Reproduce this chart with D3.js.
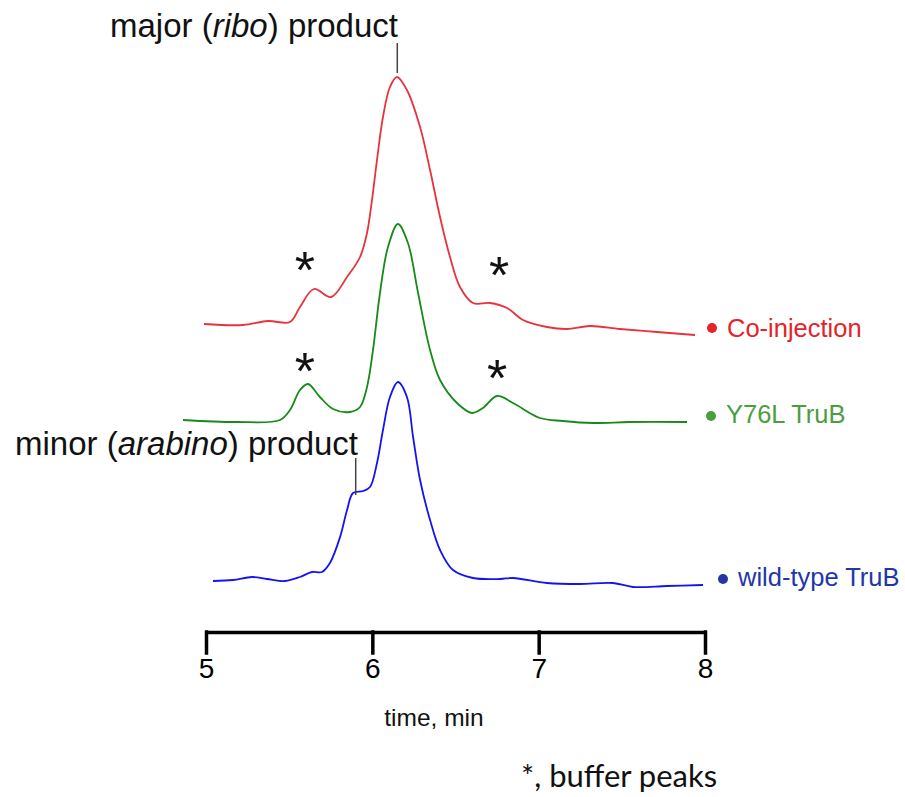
<!DOCTYPE html>
<html>
<head>
<meta charset="utf-8">
<script src="https://cdn.jsdelivr.net/npm/d3@7/dist/d3.min.js"></script>
<style>
  html, body { margin: 0; padding: 0; background: #fff; }
  svg { display: block; font-family: "Liberation Sans", Arial, sans-serif; }
</style>
</head>
<body>
<svg id="chart" width="905" height="797"></svg>
<script>
// ---------- data ----------
const seriesNames = ["Co-injection", "Y76L TruB", "wild-type TruB"];

const coinjTime = [4.988, 5.222, 5.373, 5.505, 5.565, 5.649, 5.752, 5.848, 5.926, 5.968, 5.998, 6.028, 6.064, 6.106, 6.148, 6.208, 6.287, 6.347, 6.407, 6.467, 6.527, 6.605, 6.707, 6.810, 6.906, 7.050, 7.170, 7.309, 7.489, 7.711, 7.940];
const coinjValue = [0.00, -0.02, 0.06, 0.04, 0.34, 0.70, 0.54, 0.94, 1.34, 1.82, 2.48, 3.28, 4.14, 4.74, 4.94, 4.68, 3.94, 3.08, 2.14, 1.34, 0.74, 0.42, 0.42, 0.32, 0.08, -0.06, -0.10, -0.04, -0.10, -0.16, -0.22];

const y76lTime = [4.862, 5.186, 5.445, 5.505, 5.565, 5.613, 5.685, 5.764, 5.866, 5.926, 5.968, 6.004, 6.046, 6.094, 6.154, 6.214, 6.275, 6.347, 6.407, 6.509, 6.599, 6.665, 6.750, 6.846, 7.008, 7.146, 7.327, 7.549, 7.892];
const y76lValue = [0.00, -0.04, 0.00, 0.20, 0.60, 0.72, 0.46, 0.22, 0.16, 0.26, 0.66, 1.40, 2.54, 3.46, 3.92, 3.54, 2.54, 1.40, 0.80, 0.34, 0.14, 0.24, 0.48, 0.34, 0.04, -0.02, -0.06, -0.04, -0.04];

const wtTime = [5.042, 5.162, 5.277, 5.367, 5.475, 5.565, 5.637, 5.697, 5.745, 5.806, 5.848, 5.884, 5.944, 5.986, 6.028, 6.064, 6.106, 6.154, 6.208, 6.245, 6.287, 6.347, 6.407, 6.485, 6.605, 6.768, 6.846, 7.050, 7.249, 7.447, 7.567, 7.772, 7.988];
const wtValue = [-0.02, 0.00, 0.06, 0.02, -0.02, 0.06, 0.16, 0.16, 0.34, 0.86, 1.40, 1.74, 1.78, 1.86, 2.34, 3.00, 3.66, 3.96, 3.66, 2.86, 2.00, 1.20, 0.60, 0.20, 0.04, 0.02, 0.04, -0.06, -0.08, -0.06, -0.14, -0.12, -0.10];

const xTicks = [5, 6, 7, 8];
const xTickLabels = ["5", "6", "7", "8"];

// buffer peak markers: [series index, time, height above baseline]
const bufferPeakTimes = [[0, 5.595, 1.24], [0, 6.762, 1.14], [1, 5.595, 1.14], [1, 6.75, 1.00]];
// product annotations
const majorProductTime = 6.15;
const minorProductTime = 5.90;

// ---------- layout ----------
const svg = d3.select("#chart");
const x = d3.scaleLinear().domain([5, 8]).range([206, 705]);
const yRel = d3.scaleLinear().domain([0, 1]).range([0, -50]);
const baselines = [324, 420, 580];
const traceColors = ["#e8323c", "#188a18", "#1414f0"];
const legendColors = ["#e32428", "#4b9e40", "#2236a8"];

const traces = [
  coinjTime.map((t, i) => [t, coinjValue[i]]),
  y76lTime.map((t, i) => [t, y76lValue[i]]),
  wtTime.map((t, i) => [t, wtValue[i]])
];

const line = d3.line()
  .x(d => x(d[0]))
  .y(d => yRel(d[1]))
  .curve(d3.curveCatmullRom.alpha(0.5));

traces.forEach((tr, i) => {
  const g = svg.append("g").attr("transform", `translate(0,${baselines[i]})`);
  g.append("path")
    .attr("d", line(tr))
    .attr("fill", "none")
    .attr("stroke", traceColors[i])
    .attr("stroke-width", 1.8)
    .attr("stroke-linejoin", "round");
});

// legend
const legendPos = [[712, 328, 727, 337], [711, 416, 726, 423], [723, 579, 738, 586]];
seriesNames.forEach((name, i) => {
  const p = legendPos[i];
  svg.append("circle").attr("cx", p[0]).attr("cy", p[1]).attr("r", 5).attr("fill", legendColors[i]);
  svg.append("text").attr("x", p[2]).attr("y", p[3])
    .attr("font-size", 25.5).attr("fill", legendColors[i]).text(name);
});

// buffer asterisks
const astSize = 52;
bufferPeakTimes.forEach(d => {
  svg.append("text")
    .attr("x", x(d[1])).attr("y", baselines[d[0]] + yRel(d[2]) + astSize * 0.5)
    .attr("text-anchor", "middle")
    .attr("font-size", astSize)
    .attr("fill", "#111")
    .text("*");
});

// annotations
svg.append("text").attr("x", 110).attr("y", 37).attr("font-size", 33).attr("fill", "#111")
  .call(t => {
    t.append("tspan").text("major (");
    t.append("tspan").attr("font-style", "italic").text("ribo");
    t.append("tspan").text(") product");
  });
svg.append("line").attr("x1", x(majorProductTime)).attr("x2", x(majorProductTime))
  .attr("y1", 43).attr("y2", 73).attr("stroke", "#444").attr("stroke-width", 1.5);

svg.append("text").attr("x", 15).attr("y", 455).attr("font-size", 33).attr("fill", "#111")
  .call(t => {
    t.append("tspan").text("minor (");
    t.append("tspan").attr("font-style", "italic").text("arabino");
    t.append("tspan").text(") product");
  });
svg.append("line").attr("x1", x(minorProductTime)).attr("x2", x(minorProductTime))
  .attr("y1", 458).attr("y2", 495).attr("stroke", "#444").attr("stroke-width", 1.5);

// axis
const axis = d3.axisBottom(x)
  .tickValues(xTicks)
  .tickFormat((d, i) => xTickLabels[i])
  .tickSizeInner(21)
  .tickSizeOuter(0)
  .tickPadding(5);
const ag = svg.append("g").attr("transform", "translate(0,632)").call(axis);
ag.select(".domain").attr("stroke", "#000").attr("stroke-width", 3.5);
ag.selectAll(".tick line").attr("stroke", "#000").attr("stroke-width", 3.5).attr("stroke-linecap", "square");
ag.selectAll(".tick text").attr("font-size", 28).attr("fill", "#000")
  .attr("font-family", "'Liberation Sans', Arial, sans-serif");

svg.append("text").attr("x", 434).attr("y", 726).attr("text-anchor", "middle")
  .attr("font-size", 24.5).attr("fill", "#111").text("time, min");

svg.append("text").attr("x", 521).attr("y", 787).attr("font-size", 31)
  .attr("font-family", "Lato, 'Open Sans', sans-serif")
  .attr("fill", "#111").text("*, buffer peaks");
</script>
</body>
</html>
